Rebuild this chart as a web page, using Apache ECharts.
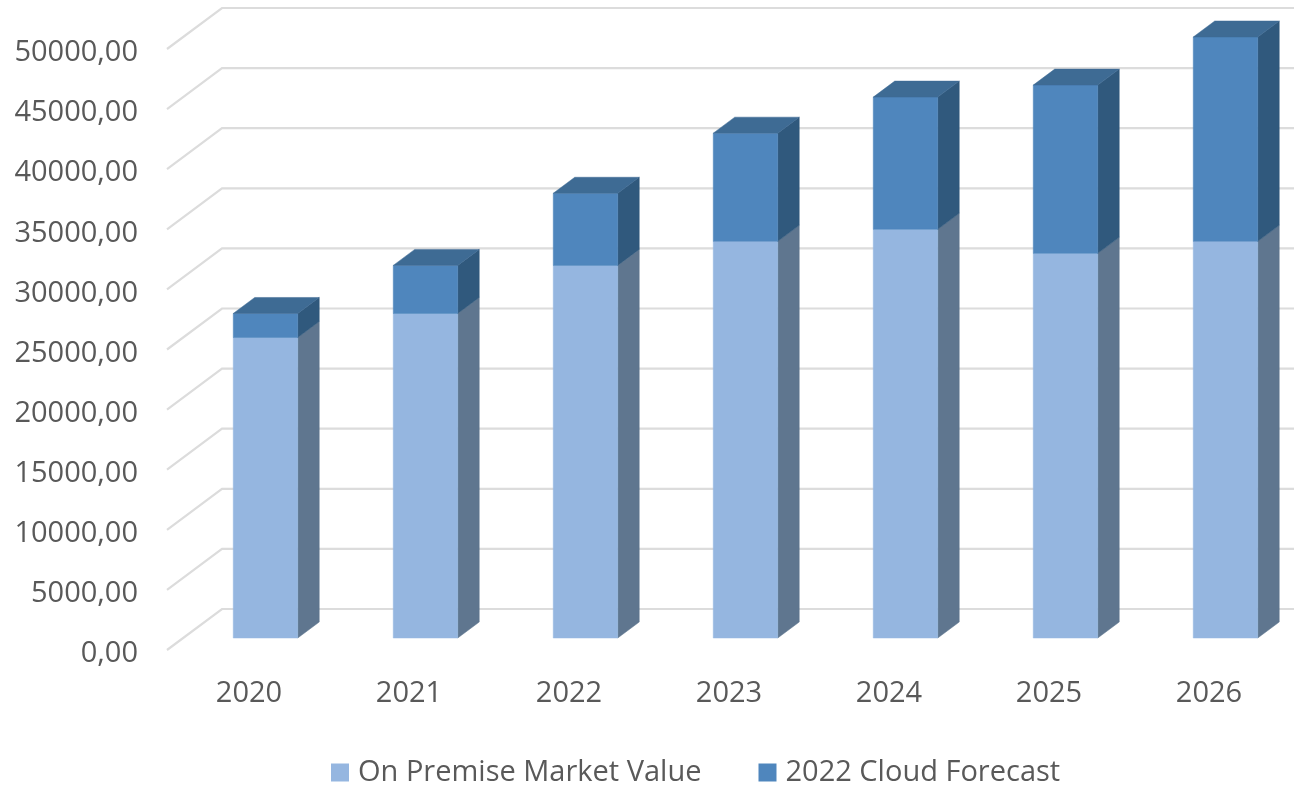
<!DOCTYPE html>
<html>
<head>
<meta charset="utf-8">
<style>
html,body{margin:0;padding:0;background:#fff;overflow:hidden}
#chart{width:1294px;height:786px;filter:blur(0.5px)}
</style>
<script src="https://cdn.jsdelivr.net/npm/echarts@6/dist/echarts.min.js"></script>
</head>
<body>
<div id="chart"></div>
<script>
const categories = ['2020','2021','2022','2023','2024','2025','2026'];
const onPremise = [25000,27000,31000,33000,34000,32000,33000];
const cloud = [2000,4000,6000,9000,11000,14000,17000];
const yTicks = [0,5000,10000,15000,20000,25000,30000,35000,40000,45000,50000];

const FONT = '"Open Sans", sans-serif';
const TEXT = '#595959';
const WALL = {dx: 55, dy: -41, back: -2};
const BAR = {dx: 21.5, dy: -16, shift: 16.5, lift: -12, ratio: 0.403};

function poly(points, fill) {
  return {type: 'polygon', shape: {points}, style: {fill, stroke: fill, lineWidth: 0.5}};
}
function block(faces, withTop) {
  return function (params, api) {
    const i = api.value(0);
    const c0 = api.coord([i, api.value(1)]);
    const c1 = api.coord([i, api.value(2)]);
    const w = api.size([1, 0])[0] * BAR.ratio;
    const l = c0[0] + BAR.shift - w / 2, r = l + w;
    const b = c0[1] + BAR.lift, t = c1[1] + BAR.lift;
    const kids = [
      poly([[r, t], [r + BAR.dx, t + BAR.dy], [r + BAR.dx, b + BAR.dy], [r, b]], faces.side),
      poly([[l, t], [r, t], [r, b], [l, b]], faces.front)
    ];
    if (withTop) {
      kids.push(poly([[l, t], [l + BAR.dx, t + BAR.dy], [r + BAR.dx, t + BAR.dy], [r, t]], faces.top));
    }
    return {type: 'group', children: kids};
  };
}
function gridRender(params, api) {
  const p = api.coord([0, api.value(1)]);
  const x0 = params.coordSys.x + WALL.back;
  const y = p[1];
  const width = params.coordSys.width;
  return {
    type: 'polyline',
    shape: {points: [[x0, y], [x0 + WALL.dx, y + WALL.dy], [x0 + WALL.dx + width, y + WALL.dy]]},
    style: {fill: 'none', stroke: '#dcdcdc', lineWidth: 2.2}
  };
}

const chart = echarts.init(document.getElementById('chart'), null, {renderer: 'canvas'});
chart.setOption({
  animation: false,
  backgroundColor: '#fff',
  grid: {left: 169, top: 49, width: 1120, height: 601, containLabel: false},
  xAxis: {
    type: 'category', data: categories,
    axisLine: {show: false}, axisTick: {show: false}, splitLine: {show: false},
    axisLabel: {color: TEXT, fontFamily: FONT, fontSize: 29, margin: 29}
  },
  yAxis: {
    type: 'value', min: 0, max: 50000, interval: 5000,
    axisLine: {show: false}, axisTick: {show: false}, splitLine: {show: false},
    axisLabel: {
      color: TEXT, fontFamily: FONT, fontSize: 29, margin: 31,
      verticalAlign: 'top', lineHeight: 8,
      formatter: v => v.toFixed(2).replace('.', ',')
    }
  },
  legend: {
    data: ['On Premise Market Value', '2022 Cloud Forecast'],
    left: 331, top: 758, padding: 0, icon: 'rect', itemWidth: 18, itemHeight: 18, itemGap: 57,
    textStyle: {color: TEXT, fontFamily: FONT, fontSize: 29, padding: [0, 0, 0, 4]}
  },
  series: [
    {
      type: 'custom', name: 'wall', z: 1, silent: true,
      data: yTicks.map(v => [0, v]), renderItem: gridRender
    },
    {
      type: 'custom', name: 'On Premise Market Value', z: 2,
      itemStyle: {color: '#95B6E0'},
      data: onPremise.map((v, i) => [i, 0, v]),
      renderItem: block({front: '#95B6E0', side: '#5F768F'}, false)
    },
    {
      type: 'custom', name: '2022 Cloud Forecast', z: 3,
      itemStyle: {color: '#4F86BD'},
      data: cloud.map((v, i) => [i, onPremise[i], onPremise[i] + v]),
      renderItem: block({front: '#4F86BD', side: '#30597D', top: '#3E6B94'}, true)
    }
  ]
});
</script>
</body>
</html>
